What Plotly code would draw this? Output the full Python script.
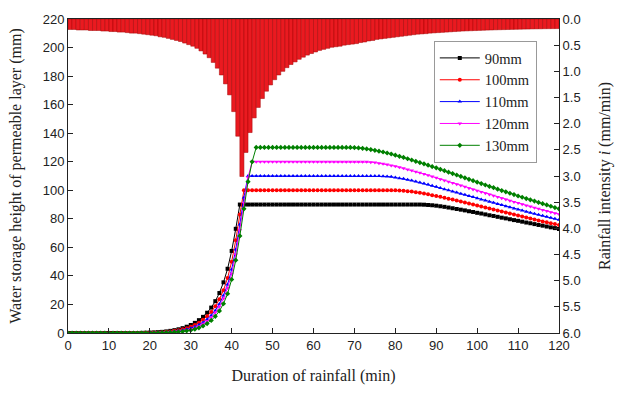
import plotly.graph_objects as go

# ---------------- data ----------------
minutes = list(range(0, 121))
rain_minute = list(range(1, 121))  # each bar covers (minute-1, minute]

rain_intensity = [
    0.20, 0.20, 0.21, 0.21, 0.21, 0.22, 0.22, 0.22, 0.23, 0.23,
    0.24, 0.24, 0.25, 0.25, 0.26, 0.27, 0.27, 0.28, 0.29, 0.30,
    0.31, 0.32, 0.34, 0.35, 0.37, 0.39, 0.41, 0.43, 0.46, 0.49,
    0.52, 0.56, 0.61, 0.67, 0.74, 0.83, 0.94, 1.07, 1.24, 1.45,
    1.77, 2.24, 3.01, 2.55, 2.17, 1.89, 1.69, 1.52, 1.38, 1.26,
    1.16, 1.07, 1.00, 0.93, 0.87, 0.82, 0.77, 0.73, 0.69, 0.66,
    0.63, 0.60, 0.58, 0.56, 0.54, 0.53, 0.52, 0.50, 0.49, 0.48,
    0.47, 0.45, 0.44, 0.42, 0.41, 0.39, 0.38, 0.37, 0.36, 0.35,
    0.34, 0.33, 0.32, 0.31, 0.30, 0.29, 0.285, 0.28, 0.27, 0.265,
    0.26, 0.255, 0.25, 0.245, 0.24, 0.235, 0.23, 0.227, 0.224, 0.221,
    0.218, 0.215, 0.212, 0.21, 0.207, 0.205, 0.203, 0.201, 0.199, 0.197,
    0.195, 0.193, 0.192, 0.19, 0.189, 0.188, 0.186, 0.185, 0.184, 0.183,
]

h90 = [
    0, 0, 0, 0, 0, 0, 0, 0, 0, 0,
    0, 0, 0, 0, 0, 0, 0, 0, 0.1, 0.2,
    0.3, 0.4, 0.6, 0.8, 1.1, 1.5, 2.0, 2.6, 3.4, 4.4,
    5.6, 7.1, 9.0, 11.3, 14.2, 17.8, 22.3, 28.0, 35.5, 45.0,
    57.5, 73.0, 90, 90, 90, 90, 90, 90, 90, 90,
    90, 90, 90, 90, 90, 90, 90, 90, 90, 90,
    90, 90, 90, 90, 90, 90, 90, 90, 90, 90,
    90, 90, 90, 90, 90, 90, 90, 90, 90, 90,
    90, 90, 90, 90, 90, 90, 90, 89.9, 89.7, 89.5,
    89.2, 88.8, 88.4, 87.9, 87.4, 86.9, 86.4, 85.9, 85.3, 84.8,
    84.2, 83.7, 83.1, 82.5, 82.0, 81.4, 80.8, 80.3, 79.7, 79.1,
    78.6, 78.0, 77.4, 76.9, 76.3, 75.7, 75.2, 74.6, 74.0, 73.5,
    72.9,
]

h100 = [
    0, 0, 0, 0, 0, 0, 0, 0, 0, 0,
    0, 0, 0, 0, 0, 0, 0, 0, 0, 0.1,
    0.2, 0.3, 0.4, 0.6, 0.8, 1.1, 1.5, 2.0, 2.6, 3.4,
    4.4, 5.6, 7.2, 9.2, 11.7, 14.8, 18.7, 23.6, 30.0, 38.5,
    50.0, 65.0, 83.0, 100, 100, 100, 100, 100, 100, 100,
    100, 100, 100, 100, 100, 100, 100, 100, 100, 100,
    100, 100, 100, 100, 100, 100, 100, 100, 100, 100,
    100, 100, 100, 100, 100, 100, 100, 100, 100, 100,
    100, 99.9, 99.7, 99.4, 99.1, 98.7, 98.2, 97.7, 97.2, 96.6,
    96.0, 95.4, 94.8, 94.1, 93.5, 92.8, 92.1, 91.4, 90.8, 90.1,
    89.4, 88.7, 88.0, 87.3, 86.6, 85.9, 85.2, 84.5, 83.8, 83.1,
    82.4, 81.7, 81.0, 80.3, 79.6, 78.9, 78.2, 77.6, 76.9, 76.3,
    75.6,
]

h110 = [
    0, 0, 0, 0, 0, 0, 0, 0, 0, 0,
    0, 0, 0, 0, 0, 0, 0, 0, 0, 0,
    0.1, 0.2, 0.3, 0.4, 0.6, 0.8, 1.1, 1.5, 2.0, 2.6,
    3.4, 4.4, 5.7, 7.4, 9.6, 12.3, 15.8, 20.3, 26.2, 34.0,
    44.5, 58.5, 76.0, 95.0, 110, 110, 110, 110, 110, 110,
    110, 110, 110, 110, 110, 110, 110, 110, 110, 110,
    110, 110, 110, 110, 110, 110, 110, 110, 110, 110,
    110, 110, 110, 110, 110, 110, 110, 109.9, 109.7, 109.4,
    109.0, 108.5, 108.0, 107.4, 106.8, 106.1, 105.4, 104.7, 104.0, 103.2,
    102.4, 101.6, 100.8, 100.0, 99.2, 98.4, 97.6, 96.8, 96.0, 95.2,
    94.4, 93.6, 92.8, 92.0, 91.2, 90.4, 89.6, 88.8, 88.1, 87.3,
    86.5, 85.8, 85.0, 84.3, 83.5, 82.8, 82.1, 81.4, 80.7, 80.0,
    79.3,
]

h120 = [
    0, 0, 0, 0, 0, 0, 0, 0, 0, 0,
    0, 0, 0, 0, 0, 0, 0, 0, 0, 0,
    0, 0.1, 0.2, 0.3, 0.4, 0.6, 0.8, 1.1, 1.5, 2.0,
    2.7, 3.6, 4.8, 6.4, 8.4, 11.0, 14.3, 18.6, 24.2, 31.5,
    41.5, 55.0, 72.0, 91.0, 109.0, 120, 120, 120, 120, 120,
    120, 120, 120, 120, 120, 120, 120, 120, 120, 120,
    120, 120, 120, 120, 120, 120, 120, 120, 120, 120,
    120, 120, 120, 119.9, 119.7, 119.4, 119.0, 118.5, 118.0, 117.4,
    116.8, 116.1, 115.4, 114.6, 113.8, 113.0, 112.2, 111.4, 110.5, 109.6,
    108.7, 107.8, 106.9, 106.0, 105.1, 104.2, 103.3, 102.4, 101.5, 100.6,
    99.7, 98.8, 97.9, 97.0, 96.1, 95.2, 94.4, 93.5, 92.7, 91.8,
    91.0, 90.2, 89.4, 88.6, 87.8, 87.0, 86.2, 85.4, 84.6, 83.9,
    83.2,
]

h130 = [
    0, 0, 0, 0, 0, 0, 0, 0, 0, 0,
    0, 0, 0, 0, 0, 0, 0, 0, 0, 0,
    0, 0, 0.1, 0.2, 0.3, 0.4, 0.6, 0.8, 1.1, 1.5,
    2.0, 2.7, 3.6, 4.9, 6.6, 8.8, 11.7, 15.5, 20.5, 27.5,
    37.5, 51.0, 68.0, 87.0, 106.0, 120.0, 130, 130, 130, 130,
    130, 130, 130, 130, 130, 130, 130, 130, 130, 130,
    130, 130, 130, 130, 130, 130, 130, 130, 130, 130,
    129.9, 129.7, 129.4, 129.0, 128.5, 128.0, 127.4, 126.8, 126.1, 125.4,
    124.6, 123.8, 123.0, 122.1, 121.2, 120.3, 119.4, 118.5, 117.6, 116.6,
    115.7, 114.7, 113.7, 112.7, 111.7, 110.7, 109.7, 108.7, 107.7, 106.7,
    105.7, 104.7, 103.7, 102.7, 101.8, 100.8, 99.8, 98.9, 97.9, 97.0,
    96.0, 95.1, 94.2, 93.3, 92.4, 91.5, 90.6, 89.7, 88.8, 87.9,
    87.0,
]

series_names = ["90mm", "100mm", "110mm", "120mm", "130mm"]
series_values = [h90, h100, h110, h120, h130]
series_colors = ["#000000", "#ff0000", "#0000ff", "#ff00ff", "#008000"]
series_symbols = ["square", "circle", "triangle-up", "triangle-down", "diamond"]

x_ticks = [0, 10, 20, 30, 40, 50, 60, 70, 80, 90, 100, 110, 120]
y_ticks = [0, 20, 40, 60, 80, 100, 120, 140, 160, 180, 200, 220]
y2_ticks = [0.0, 0.5, 1.0, 1.5, 2.0, 2.5, 3.0, 3.5, 4.0, 4.5, 5.0, 5.5, 6.0]

# ---------------- figure ----------------
fig = go.Figure()

fig.add_trace(go.Bar(
    x=rain_minute, y=rain_intensity, width=1, offset=-1,
    marker=dict(color="#ea1a20", line=dict(color="#a30000", width=0.5)),
    yaxis="y2", showlegend=False, hoverinfo="skip",
))

for name, vals, col, sym in zip(series_names, series_values, series_colors, series_symbols):
    fig.add_trace(go.Scatter(
        x=minutes, y=vals, name=name, mode="lines+markers",
        line=dict(color=col, width=1),
        marker=dict(symbol=sym, size=4, color=col),
        yaxis="y",
    ))

tick_font = dict(family="Liberation Sans, Arial, sans-serif", size=13, color="#222")
title_font = dict(family="Liberation Serif, Times New Roman, serif", size=16, color="#222")

fig.update_layout(
    width=623, height=394,
    margin=dict(l=68, r=60, t=15, b=57),
    paper_bgcolor="white", plot_bgcolor="white",
    barmode="overlay",
    xaxis=dict(
        range=[0, 120], tickvals=x_ticks, ticks="inside", ticklen=5,
        tickcolor="#222", showline=True, linecolor="#222", linewidth=1,
        mirror=True, showgrid=False, zeroline=False, tickfont=tick_font,
        title=dict(text="Duration of rainfall (min)", font=title_font, standoff=18),
    ),
    yaxis=dict(
        range=[0, 220], tickvals=y_ticks, ticks="inside", ticklen=5,
        tickcolor="#222", showline=True, linecolor="#222", linewidth=1,
        showgrid=False, zeroline=False, tickfont=tick_font,
        ticklabeloverflow="allow",
        title=dict(text="Water storage height of permeable layer (mm)",
                   font=title_font, standoff=17),
    ),
    yaxis2=dict(
        range=[6, 0], tickvals=y2_ticks, tickformat=".1f", overlaying="y",
        side="right", ticks="inside", ticklen=5, tickcolor="#222",
        showline=True, linecolor="#222", linewidth=1,
        showgrid=False, zeroline=False, tickfont=tick_font,
        ticklabeloverflow="allow",
        title=dict(text="Rainfall intensity <i>i</i> (mm/min)",
                   font=title_font, standoff=19),
    ),
    legend=dict(
        x=0.745, y=0.93, xanchor="left", yanchor="top",
        bgcolor="white", bordercolor="#999", borderwidth=1,
        font=dict(family="Liberation Serif, Times New Roman, serif", size=14.5, color="#222"),
        tracegroupgap=0, itemwidth=40,
    ),
)

fig.write_html("out.html", config={"displayModeBar": False},
               post_script="document.body.style.margin='0';")
